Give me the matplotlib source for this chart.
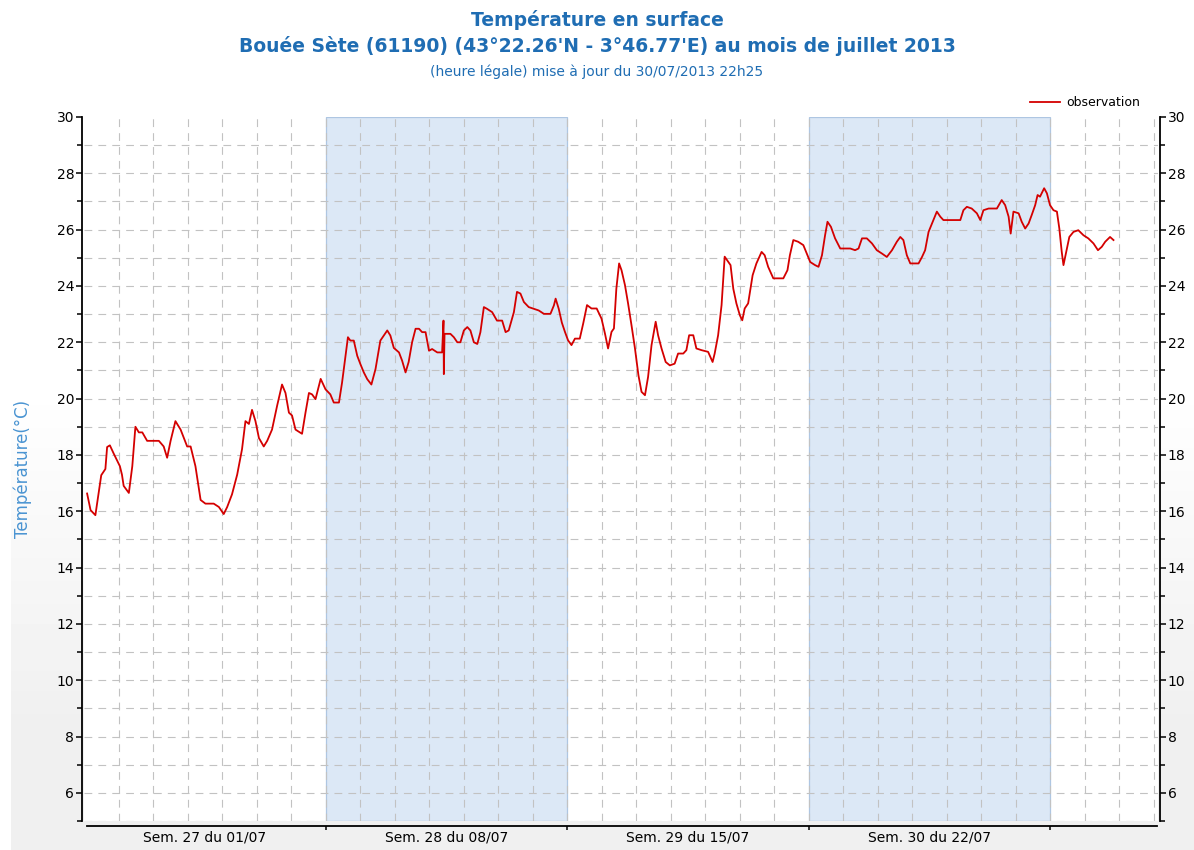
import numpy as np
import matplotlib
matplotlib.use('Agg')
import matplotlib.pyplot as plt
from matplotlib.ticker import MultipleLocator, FixedLocator, NullFormatter

# jours écoulés depuis le 01/07/2013 00h (heure légale) et température (°C)
jours = [0.09, 0.19, 0.33, 0.43, 0.50, 0.62, 0.67, 0.75, 0.86, 0.96,
         1.04, 1.10, 1.15, 1.30, 1.40, 1.49, 1.59, 1.69, 1.83, 2.17,
         2.31, 2.41, 2.51, 2.65, 2.80, 2.99, 3.09, 3.23, 3.38, 3.52,
         3.76, 3.91, 4.05, 4.15, 4.29, 4.44, 4.58, 4.68, 4.78, 4.87,
         4.97, 5.07, 5.21, 5.31, 5.45, 5.60, 5.74, 5.84, 5.94, 6.03,
         6.13, 6.32, 6.42, 6.52, 6.61, 6.71, 6.86, 7.00, 7.14, 7.24,
         7.39, 7.48, 7.58, 7.65, 7.72, 7.82, 7.92, 8.01, 8.11, 8.21,
         8.33, 8.45, 8.59, 8.69, 8.79, 8.88, 8.98, 9.13, 9.22, 9.32,
         9.41, 9.51, 9.61, 9.71, 9.80, 9.90, 10.00, 10.09, 10.24, 10.38,
         10.42, 10.43, 10.45, 10.53, 10.62, 10.72, 10.82, 10.91, 11.01, 11.11,
         11.20, 11.30, 11.40, 11.49, 11.59, 11.68, 11.83, 11.97, 12.12, 12.22,
         12.31, 12.46, 12.55, 12.65, 12.75, 12.89, 13.18, 13.33, 13.52, 13.62,
         13.67, 13.76, 13.85, 13.94, 14.03, 14.13, 14.23, 14.37, 14.47, 14.58,
         14.71, 14.86, 15.00, 15.10, 15.19, 15.29, 15.36, 15.43, 15.51, 15.58,
         15.68, 15.77, 15.87, 15.97, 16.07, 16.16, 16.26, 16.35, 16.45, 16.57,
         16.64, 16.74, 16.86, 16.98, 17.12, 17.22, 17.37, 17.46, 17.54, 17.66,
         17.75, 17.90, 18.09, 18.22, 18.28, 18.38, 18.48, 18.57, 18.67, 18.74,
         18.82, 18.91, 19.01, 19.08, 19.15, 19.25, 19.38, 19.49, 19.64, 19.73,
         19.83, 19.98, 20.27, 20.39, 20.46, 20.56, 20.70, 20.85, 21.00, 21.05,
         21.19, 21.29, 21.39, 21.48, 21.55, 21.65, 21.77, 21.92, 22.21, 22.35,
         22.45, 22.55, 22.69, 22.84, 22.98, 23.13, 23.27, 23.42, 23.56, 23.66,
         23.75, 23.85, 23.95, 24.19, 24.29, 24.38, 24.48, 24.62, 24.72, 24.82,
         24.91, 25.40, 25.49, 25.59, 25.73, 25.88, 25.98, 26.07, 26.22, 26.46,
         26.60, 26.70, 26.80, 26.86, 26.94, 27.09, 27.18, 27.28, 27.38, 27.47,
         27.57, 27.64, 27.71, 27.83, 27.91, 28.00, 28.10, 28.20, 28.27, 28.34,
         28.39, 28.47, 28.56, 28.68, 28.82, 28.97, 29.11, 29.26, 29.39, 29.50,
         29.60, 29.74, 29.84]
temp = [16.63, 16.04, 15.86, 16.70, 17.28, 17.50, 18.28, 18.34, 18.05, 17.80,
        17.60, 17.30, 16.90, 16.65, 17.60, 19.00, 18.80, 18.80, 18.50, 18.50,
        18.30, 17.90, 18.50, 19.20, 18.90, 18.30, 18.30, 17.60, 16.40, 16.27,
        16.27, 16.15, 15.90, 16.15, 16.60, 17.30, 18.20, 19.20, 19.10, 19.60,
        19.20, 18.60, 18.30, 18.50, 18.90, 19.76, 20.50, 20.20, 19.50, 19.40,
        18.90, 18.75, 19.50, 20.20, 20.15, 19.98, 20.70, 20.33, 20.15, 19.86,
        19.86, 20.57, 21.52, 22.18, 22.06, 22.06, 21.52, 21.23, 20.93, 20.69,
        20.50, 21.05, 22.06, 22.24, 22.42, 22.24, 21.80, 21.64, 21.35, 20.93,
        21.30, 22.00, 22.48, 22.48, 22.36, 22.36, 21.70, 21.76, 21.64, 21.64,
        22.77, 20.87, 22.30, 22.30, 22.30, 22.18, 22.00, 22.00, 22.42, 22.54,
        22.42, 22.00, 21.94, 22.36, 23.25, 23.19, 23.07, 22.77, 22.77, 22.36,
        22.42, 23.07, 23.79, 23.73, 23.43, 23.25, 23.13, 23.01, 23.01, 23.31,
        23.55, 23.19, 22.70, 22.37, 22.07, 21.90, 22.13, 22.13, 22.67, 23.32,
        23.20, 23.20, 22.84, 22.31, 21.78, 22.37, 22.49, 23.90, 24.80, 24.56,
        24.03, 23.38, 22.60, 21.78, 20.83, 20.24, 20.12, 20.77, 21.90, 22.73,
        22.25, 21.78, 21.30, 21.18, 21.24, 21.60, 21.60, 21.72, 22.25, 22.25,
        21.78, 21.72, 21.66, 21.30, 21.60, 22.25, 23.32, 25.04, 24.86, 24.74,
        23.90, 23.38, 22.96, 22.78, 23.20, 23.38, 24.38, 24.80, 25.21, 25.09,
        24.68, 24.27, 24.27, 24.56, 25.09, 25.63, 25.57, 25.45, 25.00, 24.85,
        24.74, 24.68, 25.09, 25.80, 26.28, 26.10, 25.69, 25.33, 25.33, 25.27,
        25.33, 25.69, 25.69, 25.51, 25.27, 25.15, 25.03, 25.27, 25.57, 25.74,
        25.63, 25.09, 24.80, 24.80, 25.03, 25.27, 25.92, 26.34, 26.64, 26.46,
        26.34, 26.34, 26.69, 26.81, 26.75, 26.58, 26.34, 26.69, 26.75, 26.75,
        27.05, 26.87, 26.46, 25.86, 26.64, 26.58, 26.28, 26.04, 26.22, 26.52,
        26.87, 27.23, 27.17, 27.47, 27.29, 26.87, 26.69, 26.64, 26.04, 25.21,
        24.74, 25.21, 25.74, 25.92, 25.98, 25.80, 25.69, 25.51, 25.27, 25.39,
        25.57, 25.74, 25.63]

semaines = ["Sem. 27 du 01/07", "Sem. 28 du 08/07", "Sem. 29 du 15/07", "Sem. 30 du 22/07"]
debut_semaines = [0, 7, 14, 21, 28]
semaines_grisees = [(7, 14), (21, 28)]

BLEU = '#1f6db3'
ROUGE = '#d40000'
GRILLE = '#c2c2c2'

plt.rcParams['font.family'] = ['DejaVu Sans']

fig = plt.figure(figsize=(11.94, 8.5), dpi=100)
fig.patch.set_facecolor('white')

# fond léger dégradé (blanc en haut, gris clair en bas)
bg = fig.add_axes([11 / 1194, 0, 1 - 11 / 1194, 1], zorder=-5)
grad = np.linspace(0, 1, 256).reshape(-1, 1)
grad = np.clip((grad - 0.45) / 0.4, 0, 1)
bg.imshow(1 - 0.06 * grad, cmap='gray', vmin=0, vmax=1, aspect='auto',
          extent=[0, 1, 0, 1], origin='upper')
bg.axis('off')

ax = fig.add_axes([84 / 1194, 29 / 850, 1074 / 1194, 704 / 850])
ax.set_facecolor('white')
ax.set_xlim(0, 31.13)
ax.set_ylim(5, 30)

for a, b in semaines_grisees:
    ax.axvspan(a, b, facecolor='#dce8f6', edgecolor='#aec6e2', lw=0.9, zorder=0)

# grille pointillée : chaque jour, chaque degré
for d in range(1, 32):
    ax.axvline(d, color=GRILLE, lw=0.8, ls=(0, (7, 5.5)), zorder=1)
for t in range(5, 30):
    ax.axhline(t, color=GRILLE, lw=0.8, ls=(0, (7, 5.5)), zorder=1)

ax.plot(jours, temp, color=ROUGE, lw=1.3, zorder=3, label='observation')

# axes
ax.spines['top'].set_visible(False)
ax.spines['left'].set_position(('outward', 1.5))
ax.spines['right'].set_position(('outward', 1.5))
ax.spines['bottom'].set_position(('outward', 3.5))
for s in ['left', 'right', 'bottom']:
    ax.spines[s].set_linewidth(1.3)
ax.spines['bottom'].set_bounds(0.1, 31.1)

ax.yaxis.set_major_locator(MultipleLocator(2))
ax.yaxis.set_minor_locator(MultipleLocator(1))
ax.yaxis.set_ticks_position('both')
ax.tick_params(axis='y', which='major', length=4.5, width=1.1, pad=1,
               labelsize=10, labelright=True, labelleft=True, direction='out')
ax.tick_params(axis='y', which='minor', length=3.5, width=1.1, direction='out')
ax.set_yticks(list(range(6, 31, 2)))

ax.xaxis.set_major_locator(FixedLocator(debut_semaines[1:]))
ax.xaxis.set_major_formatter(NullFormatter())
ax.xaxis.set_minor_locator(FixedLocator([d + 3.5 for d in debut_semaines[:4]]))
ax.set_xticklabels(semaines, minor=True)
ax.tick_params(axis='x', which='major', length=3, width=1.1, direction='out')
ax.tick_params(axis='x', which='minor', length=0, pad=3, labelsize=10)

ax.set_ylabel('Température(°C)', color='#4a94d2', fontsize=12, labelpad=18)

ax.legend(loc='lower right', bbox_to_anchor=(0.99, 1.0), frameon=False,
          fontsize=9, handlelength=2.4, handletextpad=0.5, borderaxespad=0.2)

fig.text(0.5, 1 - 20 / 850, 'Température en surface', ha='center', va='center',
         fontsize=13.5, fontweight='bold', color=BLEU)
fig.text(0.5, 1 - 46 / 850, "Bouée Sète (61190) (43°22.26'N - 3°46.77'E) au mois de juillet 2013",
         ha='center', va='center', fontsize=13.5, fontweight='bold', color=BLEU)
fig.text(0.5, 1 - 72 / 850, '(heure légale) mise à jour du 30/07/2013 22h25',
         ha='center', va='center', fontsize=10, color=BLEU)

fig.savefig('out.png', dpi=100)
